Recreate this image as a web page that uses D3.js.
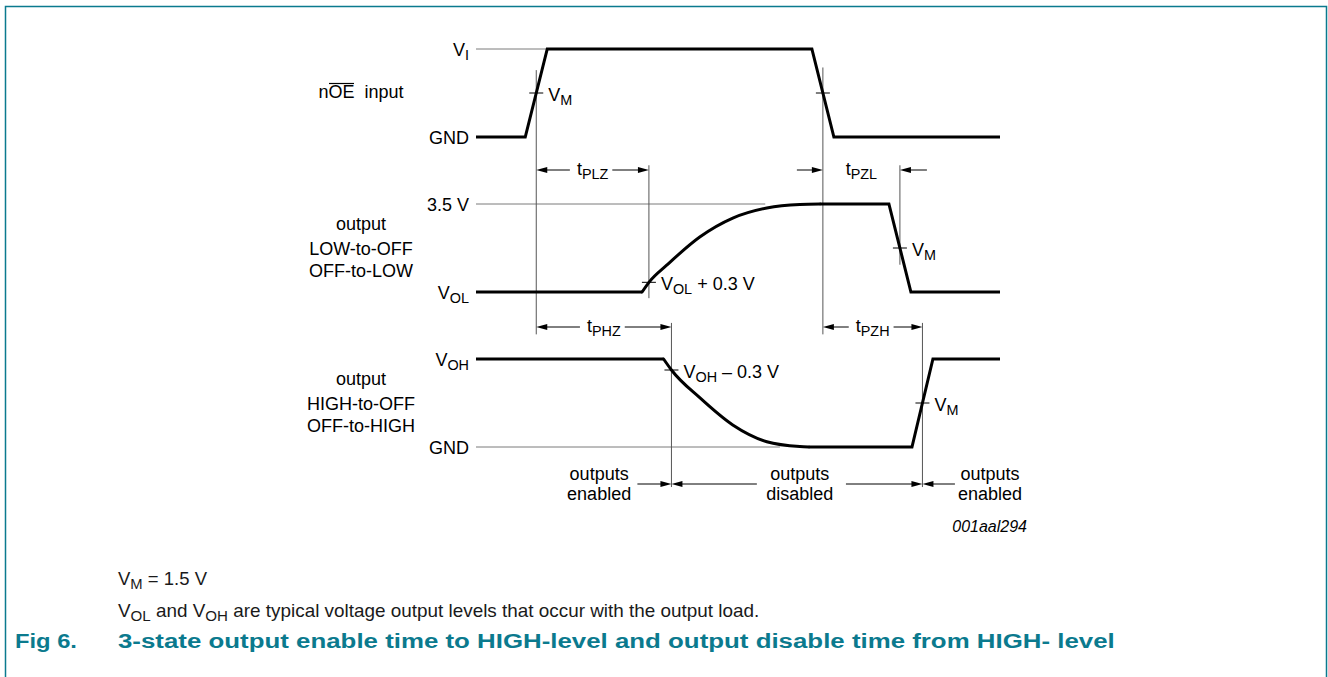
<!DOCTYPE html>
<html>
<head>
<meta charset="utf-8">
<script src="https://cdn.jsdelivr.net/npm/d3@7.9.0/dist/d3.min.js"></script>
<style>
  body { margin: 0; background: #fff; }
  text { font-family: "Liberation Sans", Arial, Helvetica, sans-serif; }
</style>
</head>
<body>
<svg id="chart" width="1328" height="677"></svg>
<script>
// ---------------- data ----------------
// time runs 0..100 across the waveform area, level 0 = low rail, 1 = high rail
const rowTitles = [["nOE  input"], ["output", "LOW-to-OFF", "OFF-to-LOW"], ["output", "HIGH-to-OFF", "OFF-to-HIGH"]];
const levelLabels = [            // [high rail, low rail] as [text, subscript]
  [["V", "I"], ["GND", ""]],
  [["3.5 V", ""], ["V", "OL"]],
  [["V", "OH"], ["GND", ""]]
];

const waveInput       = [[0, 0], [9.4, 0], [13.6, 1], [64.1, 1], [68.3, 0], [100, 0]];
const waveLowOffA     = [[0, 0], [31.7, 0]];
const waveLowOffRise  = [[31.7, 0], [33.0, 0.11], [36.5, 0.31], [42.7, 0.625], [49.0, 0.84], [55.5, 0.955], [61.8, 0.995], [65.6, 1]];
const waveLowOffB     = [[65.6, 1], [78.8, 1], [83.0, 0], [100, 0]];
const waveHighOffA    = [[0, 1], [35.8, 1]];
const waveHighOffFall = [[35.8, 1], [37.3, 0.875], [42.7, 0.56], [49.0, 0.25], [55.5, 0.06], [61.8, 0.005], [63.5, 0]];
const waveHighOffB    = [[63.5, 0], [83.2, 0], [87.2, 1], [100, 1]];

// thin reference rails: row, level, from t, to t
const refLines = [[0, 1, 0, 13.6], [1, 1, 0, 55.2], [2, 0, 0, 58.0]];

// measurement crossings: row, t, level, label, subscript, tail
const crossings = [
  [0, 11.5, 0.5, "V", "M", ""],
  [0, 66.2, 0.5, "", "", ""],
  [1, 33.0, 0.11, "V", "OL", " + 0.3 V"],
  [1, 80.9, 0.5, "V", "M", ""],
  [2, 37.3, 0.875, "V", "OH", " \u2013 0.3 V"],
  [2, 85.2, 0.5, "V", "M", ""]
];

// vertical guides: t, [row, level] top, [row, level] bottom
const guides = [
  [11.5, [0, 0.76], [2, 1.28]],
  [66.2, [0, 0.79], [2, 1.28]],
  [33.0, [1, 1.44], [1, -0.07]],
  [80.9, [1, 1.44], [1, 0.31]],
  [37.3, [2, 1.41], [2, -0.455]],
  [85.2, [2, 1.41], [2, -0.455]]
];

// timing parameters: subscript, lane, t start, t end, arrow style
const timings = [
  ["PLZ", 0, 11.5, 33.0, "in"],
  ["PZL", 0, 66.2, 80.9, "out"],
  ["PHZ", 1, 11.5, 37.3, "in"],
  ["PZH", 1, 66.2, 85.2, "in"]
];

// output state arrows (lane 2): from t, tip t
const stateArrows = [[30.8, 37.3], [53.6, 37.3], [70.6, 85.2], [91.4, 85.2]];
const stateLabels = [[23.5, "outputs", "enabled"], [61.8, "outputs", "disabled"], [98.1, "outputs", "enabled"]];

// ---------------- layout ----------------
const svg = d3.select("#chart");
const teal = "#0b7a8e";
const fs = 18;

const x = d3.scaleLinear().domain([0, 100]).range([476, 1000]);
const rowY = [0, 1, 2].map(r => d3.scaleLinear().domain([0, 1]).range([137 + 155 * r, 49 + 155 * r]));
const laneY = [170, 327, 484];

svg.append("rect").attr("width", 1328).attr("height", 677).attr("fill", "#fff");

// frame
svg.append("path")
  .attr("d", "M5.5,677 V6.5 H1326.5 V677")
  .attr("fill", "none").attr("stroke", teal).attr("stroke-width", 1.5);

function richText(parent, px, py, parts, size) {
  const t = parent.append("text").attr("x", px).attr("y", py).attr("font-size", size);
  let shifted = false;
  parts.forEach(([s, sub]) => {
    if (!s) return;
    const ts = t.append("tspan").text(s);
    if (sub) {
      ts.attr("font-size", size * 0.8);
      if (!shifted) { ts.attr("dy", 4); shifted = true; }
    } else if (shifted) {
      ts.attr("dy", -4); shifted = false;
    }
  });
  return t;
}

function arrow(parent, x0, x1, y) {
  const dir = x1 > x0 ? 1 : -1;
  parent.append("line")
    .attr("x1", x0).attr("x2", x1 - dir * 6).attr("y1", y).attr("y2", y)
    .attr("stroke", "#000").attr("stroke-width", 1);
  parent.append("path")
    .attr("d", `M${x1},${y} L${x1 - dir * 11},${y - 3} L${x1 - dir * 11},${y + 3} Z`)
    .attr("fill", "#000");
}

const g = svg.append("g");

// reference rails
refLines.forEach(([r, lv, t0, t1]) => {
  g.append("line")
    .attr("x1", x(t0)).attr("x2", x(t1))
    .attr("y1", rowY[r](lv)).attr("y2", rowY[r](lv))
    .attr("stroke", "#7a7a7a").attr("stroke-width", 1);
});

// vertical guides
guides.forEach(([t, top, bot]) => {
  g.append("line")
    .attr("x1", x(t)).attr("x2", x(t))
    .attr("y1", rowY[top[0]](top[1])).attr("y2", rowY[bot[0]](bot[1]))
    .attr("stroke", "#555").attr("stroke-width", 1);
});

// waveforms
const waves = [
  { row: 0, pieces: [[waveInput, false]] },
  { row: 1, pieces: [[waveLowOffA, false], [waveLowOffRise, true], [waveLowOffB, false]] },
  { row: 2, pieces: [[waveHighOffA, false], [waveHighOffFall, true], [waveHighOffB, false]] }
];
waves.forEach(w => {
  w.pieces.forEach(([pts, smooth]) => {
    const gen = d3.line()
      .x(d => x(d[0]))
      .y(d => rowY[w.row](d[1]))
      .curve(smooth ? d3.curveMonotoneX : d3.curveLinear);
    g.append("path")
      .attr("d", gen(pts))
      .attr("fill", "none").attr("stroke", "#000").attr("stroke-width", 3)
      .attr("stroke-linejoin", "miter")
      .attr("stroke-linecap", smooth ? "round" : "butt");
  });
});

// crossing ticks and labels
crossings.forEach(([r, t, lv, main, sub, tail]) => {
  const cx = x(t), cy = rowY[r](lv);
  g.append("line")
    .attr("x1", cx - 7).attr("x2", cx + 7).attr("y1", cy).attr("y2", cy)
    .attr("stroke", "#000").attr("stroke-width", 1);
  if (main) richText(g, cx + 12, cy + 8, [[main, false], [sub, true], [tail, false]], fs);
});

// level labels at the left
levelLabels.forEach((pair, r) => {
  [1, 0].forEach((lv, i) => {
    const [main, sub] = pair[i];
    richText(g, 469, rowY[r](lv) + 6.5, [[main, false], [sub, true]], fs)
      .attr("text-anchor", "end");
  });
});

// row titles
const titleOffsets = [[-39], [-62, -37.5, -15.5], [-62, -37.5, -15.5]];
rowTitles.forEach((lines, r) => {
  lines.forEach((s, i) => {
    const t = g.append("text")
      .attr("x", 361).attr("y", rowY[r](0) + titleOffsets[r][i])
      .attr("text-anchor", "middle").attr("font-size", fs)
      .style("white-space", "pre")
      .text(s);
    if (r === 0) {
      // bar over "OE"
      const n = t.node();
      const a = n.getExtentOfChar(1), b = n.getExtentOfChar(2);
      g.append("line")
        .attr("x1", a.x + 0.5).attr("x2", b.x + b.width - 0.5)
        .attr("y1", a.y + 1.5).attr("y2", a.y + 1.5)
        .attr("stroke", "#000").attr("stroke-width", 1.2);
    }
  });
});

// timing arrows
timings.forEach(([sub, lane, t0, t1, style]) => {
  const y = laneY[lane], x0 = x(t0), x1 = x(t1), mid = (x0 + x1) / 2;
  const lbl = richText(g, mid, y + 5, [["t", false], [sub, true]], fs).attr("text-anchor", "middle");
  const w = lbl.node().getComputedTextLength();
  if (style === "in") {
    arrow(g, mid - w / 2 - 7, x0, y);
    arrow(g, mid + w / 2 + 4, x1, y);
  } else {
    arrow(g, x0 - 26, x0, y);
    arrow(g, x1 + 27, x1, y);
  }
});

// output state arrows and labels
stateArrows.forEach(([from, tip]) => arrow(g, x(from), x(tip), laneY[2]));
stateLabels.forEach(([t, l1, l2]) => {
  [l1, l2].forEach((s, i) => {
    g.append("text")
      .attr("x", x(t)).attr("y", laneY[2] - 4 + i * 20)
      .attr("text-anchor", "middle").attr("font-size", fs)
      .text(s);
  });
});

g.append("text")
  .attr("x", 1027).attr("y", 532)
  .attr("text-anchor", "end").attr("font-size", 16).attr("font-style", "italic")
  .text("001aal294");

// ---------------- notes & caption ----------------
function fitWidth(sel, px, target) {
  const w = sel.node().getBBox().width;
  if (w > 0) sel.attr("transform", `translate(${px},0) scale(${target / w},1) translate(${-px},0)`);
}

const n1 = richText(svg, 118, 585, [["V", false], ["M", true], [" = 1.5 V", false]], 18).attr("fill", "#1a1a1a");
fitWidth(n1, 118, 89);
const n2 = richText(svg, 118, 617, [["V", false], ["OL", true], [" and V", false], ["OH", true],
  [" are typical voltage output levels that occur with the output load.", false]], 18).attr("fill", "#1a1a1a");
fitWidth(n2, 118, 642);

const fig = svg.append("text")
  .attr("x", 15).attr("y", 648)
  .attr("font-size", 21).attr("font-weight", "bold").attr("fill", teal)
  .text("Fig 6.");
fitWidth(fig, 15, 62);
const cap = svg.append("text")
  .attr("x", 118).attr("y", 648)
  .attr("font-size", 21).attr("font-weight", "bold").attr("fill", teal)
  .text("3-state output enable time to HIGH-level and output disable time from HIGH- level");
fitWidth(cap, 118, 997);
</script>
</body>
</html>
